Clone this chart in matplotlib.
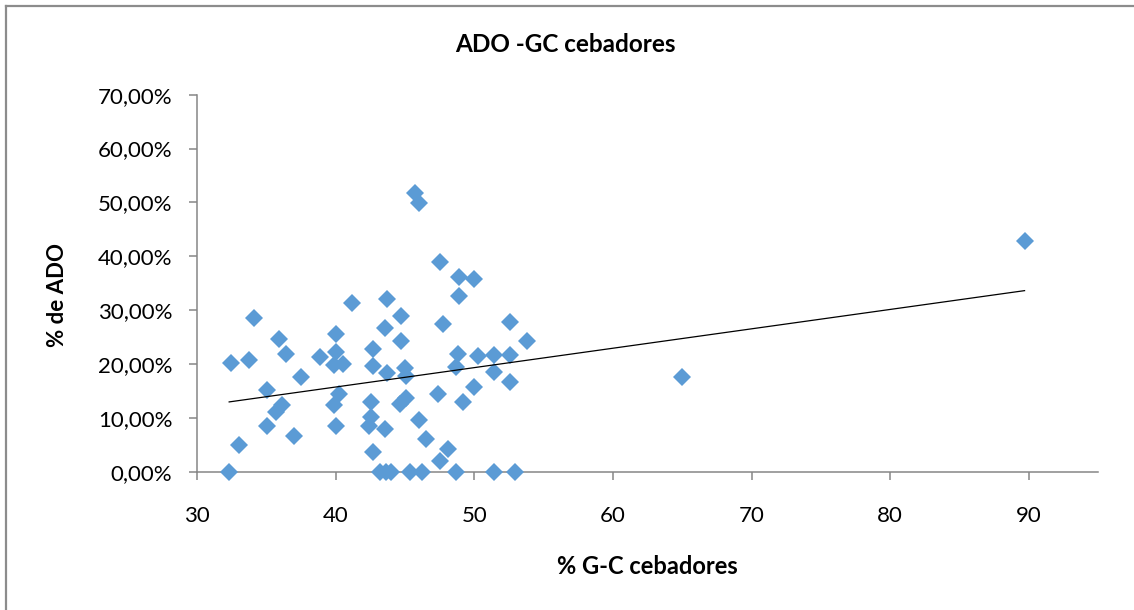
import numpy as np
import matplotlib
matplotlib.use("Agg")
import matplotlib.pyplot as plt
from matplotlib.lines import Line2D
from matplotlib.ticker import FuncFormatter, MultipleLocator

plt.rcParams['font.family'] = ['Lato', 'DejaVu Sans']

# % G-C content of the primers (x) and % ADO (y, as fraction)
gc_cebadores = [
    32.3, 33.0, 32.4, 33.7, 34.1, 35.0, 35.0, 35.7, 36.1, 35.9,
    36.4, 37.0, 37.5, 38.85, 40.0, 40.0, 39.9, 40.5, 39.9, 40.25,
    40.0, 41.2, 42.7, 42.7, 42.5, 42.5, 42.4, 42.7, 43.7, 43.55,
    43.7, 43.55, 43.2, 43.6, 44.0, 44.7, 44.7, 45.0, 45.05, 45.05,
    44.6, 45.35, 46.2, 45.7, 46.0, 46.0, 46.5, 47.5, 47.75, 47.35,
    47.5, 48.1, 48.9, 48.9, 49.96, 48.8, 48.7, 49.2, 50.0, 48.7,
    50.25, 51.4, 51.4, 51.4, 52.6, 52.6, 52.6, 52.9, 53.8, 65.0,
    89.7,
]
ado = [
    0.000, 0.050, 0.201, 0.207, 0.285, 0.152, 0.085, 0.111, 0.124, 0.246,
    0.219, 0.066, 0.176, 0.2135, 0.256, 0.223, 0.198, 0.200, 0.124, 0.144,
    0.084, 0.313, 0.227, 0.196, 0.129, 0.102, 0.084, 0.037, 0.321, 0.266,
    0.183, 0.079, 0.000, 0.000, 0.000, 0.289, 0.243, 0.192, 0.178, 0.136,
    0.126, 0.000, 0.000, 0.517, 0.499, 0.096, 0.061, 0.389, 0.274, 0.144,
    0.019, 0.043, 0.361, 0.326, 0.357, 0.218, 0.194, 0.129, 0.158, 0.000,
    0.215, 0.216, 0.185, 0.000, 0.2785, 0.216, 0.167, 0.000, 0.243, 0.175,
    0.429,
]

x_ticks = [30, 40, 50, 60, 70, 80, 90]

W, H = 1134, 610
fig = plt.figure(figsize=(W / 100, H / 100), dpi=100)
ax = fig.add_axes([197.3 / W, 1 - 471.7 / H, (1098 - 197.3) / W, (471.7 - 94.7) / H])

x = np.array(gc_cebadores)
y = np.array(ado)

ax.plot(x, y, linestyle='none', marker='D', markersize=9.4,
        color='#5B9BD5', markeredgewidth=0, zorder=3, clip_on=False)

# linear trend line across the data range
slope, intercept = np.polyfit(x, y, 1)
xs = np.array([x.min(), x.max()])
ax.plot(xs, slope * xs + intercept, color='black', linewidth=0.9, zorder=4)

ax.set_xlim(30, 95)
ax.set_ylim(0, 0.70)
ax.set_xticks(x_ticks)
ax.yaxis.set_major_locator(MultipleLocator(0.10))
ax.yaxis.set_major_formatter(
    FuncFormatter(lambda v, p: f"{v * 100:.2f}%".replace('.', ',')))

for side in ('top', 'right'):
    ax.spines[side].set_visible(False)
for side in ('left', 'bottom'):
    ax.spines[side].set_color('#868686')
    ax.spines[side].set_linewidth(1.1)

ax.tick_params(axis='both', direction='out', length=6, width=1.1,
               color='#868686', labelsize=16, labelcolor='black')
ax.tick_params(axis='y', pad=12)
ax.tick_params(axis='x', pad=19)

fig.text(565 / W, 1 - 45 / H, 'ADO -GC cebadores', ha='center', va='center',
         fontsize=17.5, fontweight='bold')
fig.text(647.7 / W, 1 - 566 / H, '% G-C cebadores', ha='center', va='center',
         fontsize=17, fontweight='bold')
fig.text(57 / W, 1 - 295 / H, '% de ADO', ha='center', va='center',
         rotation=90, fontsize=16, fontweight='bold')

# outer chart frame
fig.add_artist(Line2D([6 / W, 6 / W], [0, 1 - 6 / H], transform=fig.transFigure,
                      color='#8c8c8c', linewidth=1.6))
fig.add_artist(Line2D([6 / W, 1], [1 - 6 / H, 1 - 6 / H], transform=fig.transFigure,
                      color='#8c8c8c', linewidth=1.6))

fig.savefig('out.png', dpi=100, facecolor='white')
